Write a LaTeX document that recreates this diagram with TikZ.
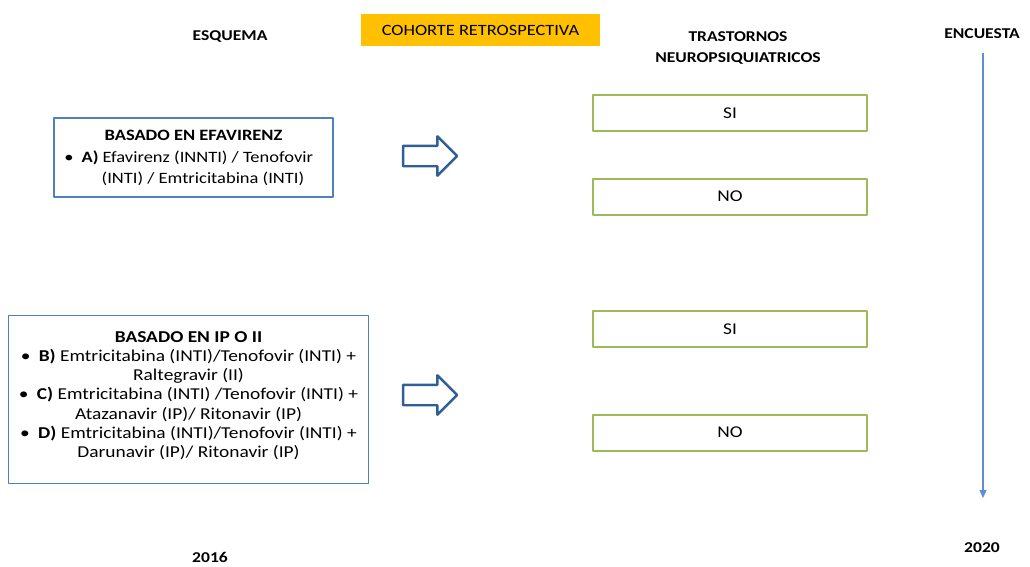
\documentclass[tikz,border=0pt]{standalone}
\usepackage{fontspec}
\setmainfont{Carlito}[FakeStretch=1.17]
\usetikzlibrary{arrows.meta,shapes.arrows}
\definecolor{boxblue}{HTML}{4F81BD}
\definecolor{arrowblue}{HTML}{2F5F96}
\definecolor{lineblue}{HTML}{5B8FD6}
\definecolor{boxgreen}{HTML}{9BBB59}
\definecolor{cohorange}{HTML}{FFC000}
\begin{document}
\begin{tikzpicture}[x=1pt,y=-1pt, font={\fontsize{16.6pt}{19.2pt}\selectfont}, line join=round,
	head/.style={font={\fontsize{15pt}{21pt}\selectfont\bfseries}, align=center},
	schemebox/.style={draw=boxblue, line width=1.3pt, inner sep=0pt, align=center},
	answerbox/.style={draw=boxgreen, line width=2pt, minimum width=274pt, minimum height=36pt, inner sep=0pt, font={\fontsize{16.5pt}{19pt}\selectfont}},
	fatarrow/.style={single arrow, draw=arrowblue, line width=2.4pt, fill=white, minimum height=54pt, single arrow head extend=9.5pt, inner sep=0pt}]
		\useasboundingbox (0,0) rectangle (1030,566);
		% column headers
		\node[head] (esquema) at (230,37) {ESQUEMA};
		\node[fill=cohorange, minimum width=239pt, minimum height=32pt, inner sep=0pt, font={\fontsize{15.7pt}{19pt}\selectfont}] (cohorte) at (480.5,30) {COHORTE RETROSPECTIVA};
		\node[head] (trastornos) at (738,48) {TRASTORNOS\\NEUROPSIQUIATRICOS};
		\node[head] (encuesta) at (982,34) {ENCUESTA};
		% schemes
		\node[schemebox, minimum width=279pt, minimum height=79pt, font={\fontsize{15.8pt}{21pt}\selectfont}] (efav) at (193.5,157.5)
			{\raisebox{1pt}{\textbf{BASADO EN EFAVIRENZ}}\\\hspace{-0.6em}\textbullet\enspace\textbf{A)} Efavirenz (INNTI) / Tenofovir\\\hspace{1.2em}(INTI) / Emtricitabina (INTI)};
		\node[schemebox, minimum width=360pt, minimum height=168pt] (ipii) at (188.5,399.5)
			{\textbf{BASADO EN IP O II}\\
			\textbullet\enspace\textbf{B)} Emtricitabina (INTI)/Tenofovir (INTI) +\\
			Raltegravir (II)\\
			\textbullet\enspace\textbf{C)} Emtricitabina (INTI) /Tenofovir (INTI) +\\
			Atazanavir (IP)/ Ritonavir (IP)\\
			\textbullet\enspace\textbf{D)} Emtricitabina (INTI)/Tenofovir (INTI) +\\
			Darunavir (IP)/ Ritonavir (IP)\\[-9pt]};
		% block arrows
		\node[fatarrow] (arrowA) at (425,156) {\rule{0pt}{18pt}};
		\node[fatarrow] (arrowB) at (425,395) {\rule{0pt}{18pt}};
		% outcomes
		\node[answerbox] (siA) at (730,113) {SI};
		\node[answerbox] (noA) at (730,196.5) {NO};
		\node[answerbox] (siB) at (730,329) {SI};
		\node[answerbox] (noB) at (730,432.5) {NO};
		% time line
		\node[head] (y2016) at (210,557) {2016};
		\node[head] (y2020) at (982,548) {2020};
		\coordinate (tltop) at (983,53);
		\coordinate (tlend) at (983,498);
		\draw[lineblue, line width=1.3pt, -{Triangle[length=8pt,width=7pt]}] (tltop)--(tlend);
\end{tikzpicture}
\end{document}
